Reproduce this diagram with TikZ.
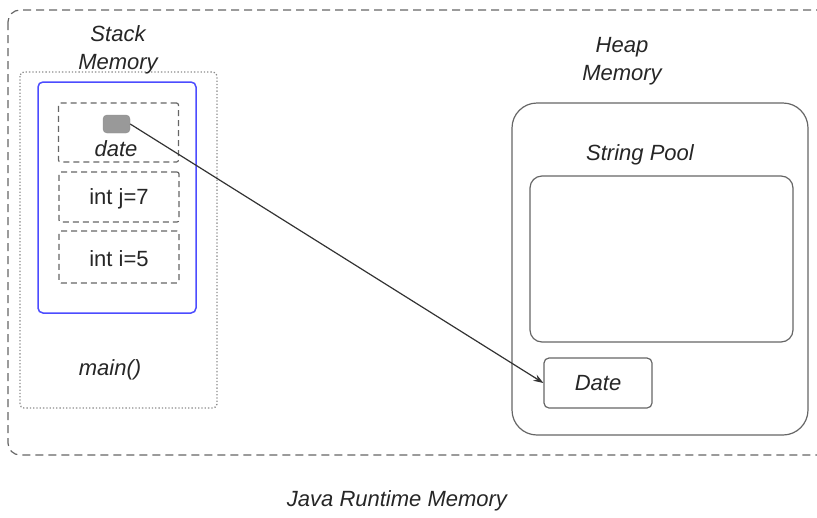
\documentclass[tikz,border=0pt]{standalone}
\usepackage{fontspec}
\setmainfont{Liberation Sans}
\usetikzlibrary{arrows.meta}

\begin{document}
\begin{tikzpicture}[x=1pt,y=-1pt,
    txt/.style={font=\fontsize{22}{28}\selectfont, align=center, inner sep=0pt, text=black!85},
    itxt/.style={txt, font=\fontsize{22}{28}\selectfont\itshape},
    slot/.style={draw=black!60, dashed, dash pattern=on 6pt off 4pt, line width=1.2pt,
                 rounded corners=2pt, minimum width=120pt, inner sep=0pt},
    box/.style={draw=black!60, line width=1.2pt, inner sep=0pt}]
    \useasboundingbox (0,0) rectangle (817,517);

    % Outer runtime memory frame, cut off at the right edge
    \draw[black!60, line width=1.2pt, dash pattern=on 8pt off 5pt, rounded corners=12pt]
    (8,10) rectangle (830,455);

    % Stack memory: dotted frame for main() and the blue frame
    \draw[black!45, line width=1.3pt, dotted, rounded corners=4pt]
    (20,72) rectangle (217,408);
    \draw[blue!70!white, line width=1.5pt, rounded corners=5pt]
    (38,82) rectangle (196,313);

    \node[itxt] (stacklbl) at (118,50) {Stack\\Memory};
    \node[itxt] (mainlbl) at (110,370) {main()};

    % Local variable slots
    \node[slot, minimum height=59pt] (dateslot) at (118.5,132.5) {};
    \node[slot, minimum height=50pt] (jslot) at (119,197) {};
    \node[slot, minimum height=52pt] (islot) at (119,257) {};
    \node[txt] (jval) at (119,199) {int j=7};
    \node[txt] (ival) at (119,259) {int i=5};

    % Reference held by date
    \node[fill=black!40, draw=black!45, rounded corners=4pt,
          minimum width=27pt, minimum height=18pt, inner sep=0pt] (ptr) at (116.5,124) {};
    \node[itxt] (datelbl) at (116,149) {date};

    % Heap memory
    \node[itxt] (heaplbl) at (622,61) {Heap\\Memory};
    \draw[box, rounded corners=25pt] (512,103) rectangle (808,435);
    \node[itxt] (poollbl) at (640,155) {String Pool};
    \node[box, rounded corners=12pt, minimum width=263pt, minimum height=166pt]
    (pool) at (661.5,259) {};
    \node[box, rounded corners=5pt, minimum width=108pt, minimum height=50pt, itxt]
    (dateobj) at (598,383) {Date};

    % Reference arrow
    \draw[black!80, line width=1.2pt, -{Stealth[length=10pt,width=7pt]}]
    (ptr.east) -- (dateobj.west);

    \node[itxt] (runtimelbl) at (397,501) {Java Runtime Memory};
\end{tikzpicture}
\end{document}
